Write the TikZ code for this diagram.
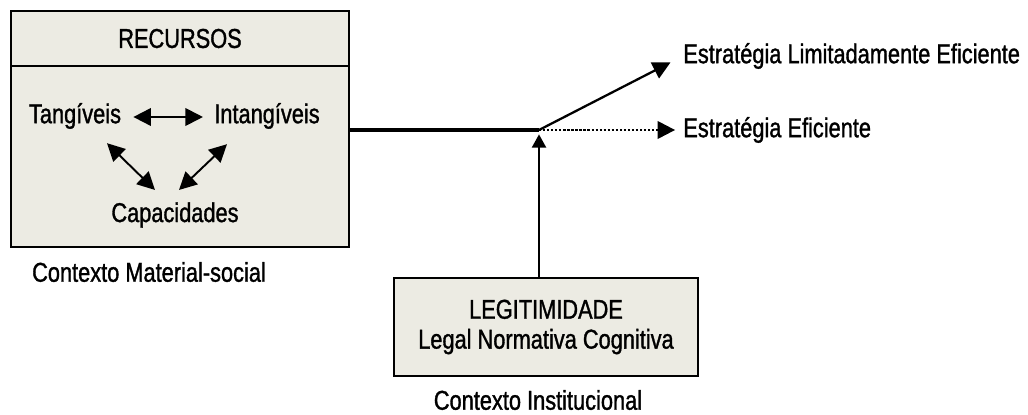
\documentclass[tikz,border=0pt]{standalone}
\usepackage{fontspec}
\setmainfont[FakeStretch=0.8,FakeBold=1.2]{Liberation Sans}
\usetikzlibrary{arrows.meta,positioning}
\definecolor{boxfill}{RGB}{236,235,227}
\tikzset{
    lbl/.style={font=\fontsize{15.5}{17}\selectfont, inner sep=0pt},
    panel/.style={draw, fill=boxfill, line width=1.1pt, inner sep=0pt},
    biarrow/.style={line width=1.1pt, {Triangle[length=10pt,width=10pt]}-{Triangle[length=10pt,width=10pt]}},
    outarrow/.style={line width=1.3pt, -{Triangle[length=10pt,width=10pt]}},
}
\begin{document}
\begin{tikzpicture}[x=0.02cm,y=-0.02cm]
        \useasboundingbox (0,0) rectangle (1028,415);
        %% Resources panel
        \node[panel, minimum width=6.76cm, minimum height=4.72cm] (rec) at (180,129) {};
        \node[panel, lbl, anchor=north west, minimum width=6.76cm, minimum height=1.1cm] (rechead) at (rec.north west) {RECURSOS};
        \node[lbl] (tang) at (75,116) {Tangíveis};
        \node[lbl] (intang) at (267,116) {Intangíveis};
        \node[lbl] (capac) at (175,215) {Capacidades};
        \node[lbl] (ctxmat) at (149,272) {Contexto Material-social};
        %% Arrows between resources
        \draw[biarrow] (tang.east) ++(12,1) -- ([shift={(-11,1)}]intang.west);
        \draw[biarrow] ([shift={(32,14)}]tang.south) -- ([shift={(-20,-12)}]capac.north);
        \draw[biarrow] ([shift={(-40,15)}]intang.south) -- ([shift={(4,-12)}]capac.north);
        %% Legitimacy panel
        \node[panel, lbl, align=center, minimum width=6.08cm, minimum height=1.96cm] (legit) at (546,327) {LEGITIMIDADE\\Legal Normativa Cognitiva};
        \node[lbl] (ctxinst) at (538,400) {Contexto Institucional};
        %% Strategies
        \coordinate (j) at (539,130);
        \node[lbl, anchor=west] (elim) at (683,56) {Estratégia Limitadamente Eficiente};
        \node[lbl, anchor=west] (efic) at (683,130) {Estratégia Eficiente};
        \draw[line width=2.8pt] (rec.east |- j) -- (j);
        \draw[outarrow, shorten >=8pt] (j) -- (elim.west);
        \draw[outarrow, dash pattern=on 1.3pt off 1pt, shorten >=4.5pt] (j) -- (efic.west);
        \draw[line width=1.1pt, -{Triangle[length=7.5pt,width=8pt]}, shorten >=2.5pt] (legit.north) ++(-7,0) -- (j);
    \end{tikzpicture}
\end{document}
